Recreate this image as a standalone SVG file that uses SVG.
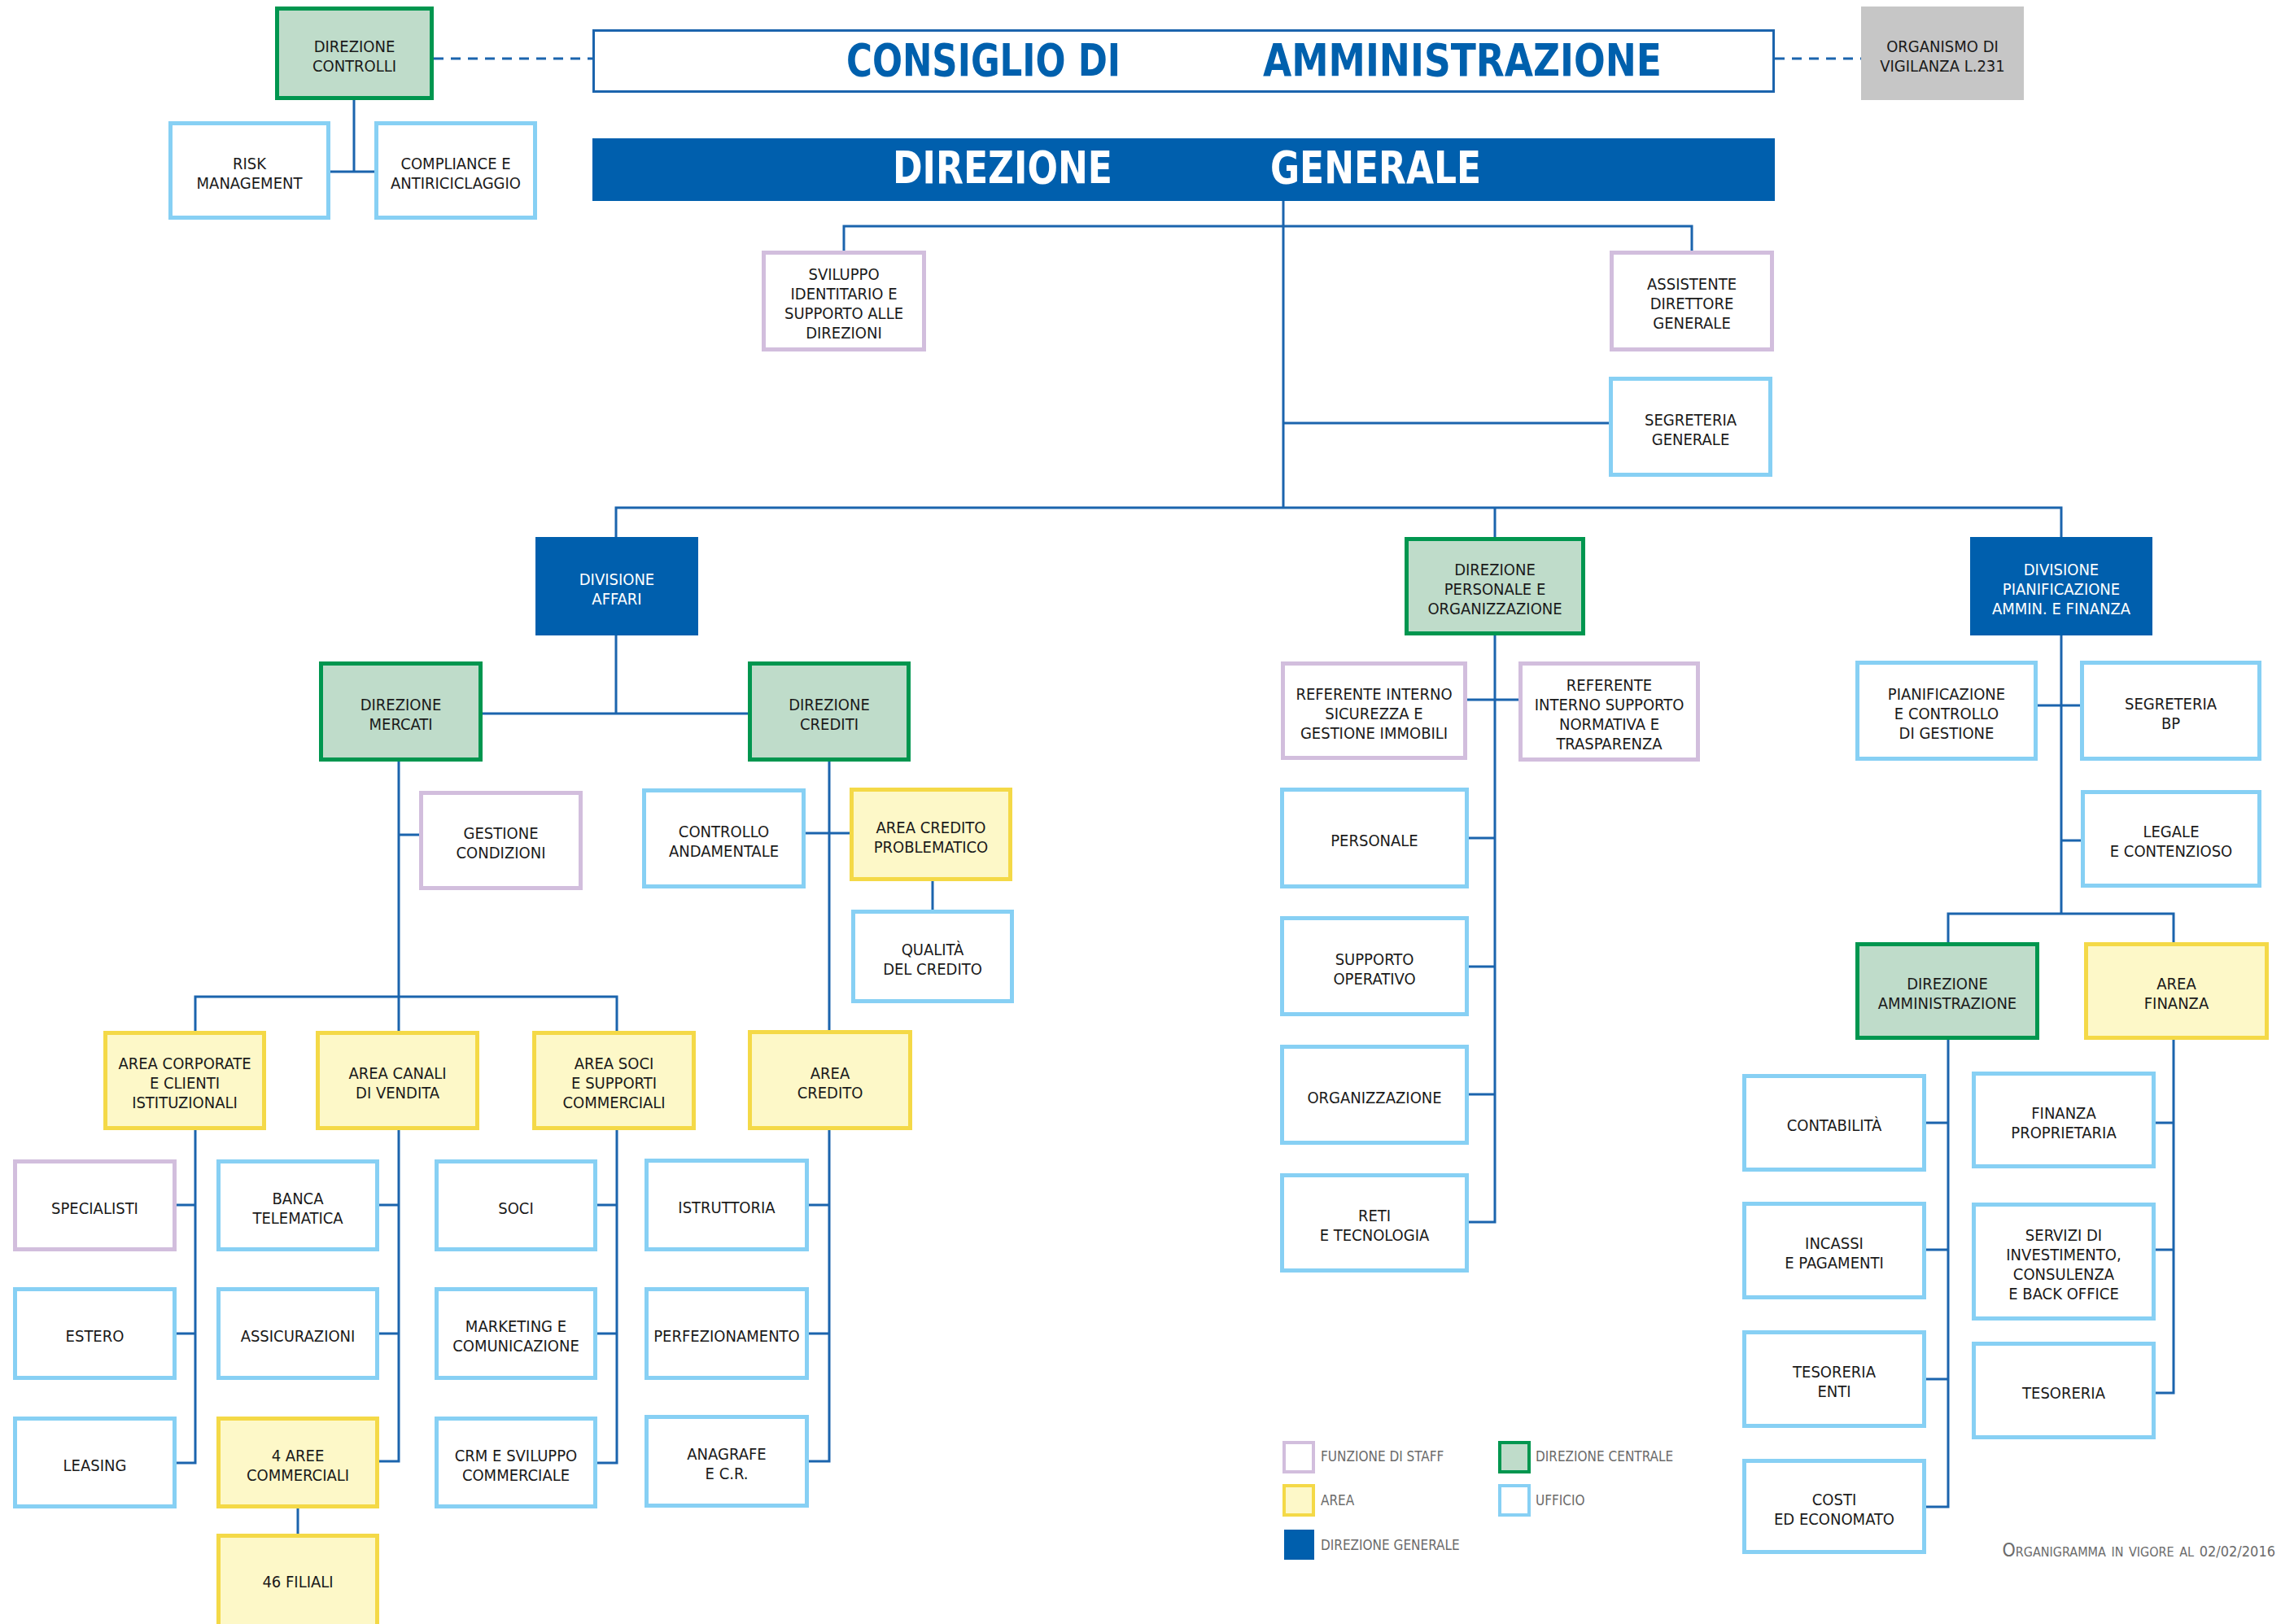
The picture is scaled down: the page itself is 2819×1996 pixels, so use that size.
<svg xmlns="http://www.w3.org/2000/svg" width="2819" height="1996" viewBox="0 0 2819 1996">
<style>
.t{font-family:"DejaVu Sans Condensed","DejaVu Sans",sans-serif;font-size:20px;fill:#1a1a1a;text-anchor:middle}
.w{fill:#ffffff}
.staff{fill:#ffffff;stroke:#d2bedd;stroke-width:5}
.uff{fill:#ffffff;stroke:#87d0f4;stroke-width:5}
.area{fill:#fdf8c8;stroke:#f4d947;stroke-width:5}
.dc{fill:#bfdcca;stroke:#00964f;stroke-width:5}
.dg{fill:#005fad}
.odv{fill:#c6c6c6}
.ln{fill:none;stroke:#1b64ad;stroke-width:3;stroke-linejoin:miter;stroke-linecap:butt}
.dash{fill:none;stroke:#1b64ad;stroke-width:3;stroke-dasharray:12 9}
.title{font-family:"DejaVu Sans Condensed","DejaVu Sans",sans-serif;font-weight:bold;font-size:56px}
.leg{font-family:"DejaVu Sans Condensed","DejaVu Sans",sans-serif;font-size:17px;fill:#6b6b6b}
</style>
<rect width="2819" height="1996" fill="#ffffff"/>
<g id="connectors">
<path class="dash" d="M533,72 H728 M2181,72 H2287"/>
<path class="ln" d="M435,123 V211 M406,211 H460"/>
<path class="ln" d="M1577,247 V624 M1037,308 V278 H2079 V308 M1577,520 H1977"/>
<path class="ln" d="M757,660 V624 H2533 V660 M1837,624 V660"/>
<path class="ln" d="M757,781 V877 M593,877 H919"/>
<path class="ln" d="M490,936 V1267 M490,1026 H515 M240,1267 V1225 H758 V1267"/>
<path class="ln" d="M240,1389 V1798 H217 M217,1481 H240 M217,1639 H240"/>
<path class="ln" d="M490,1389 V1796 H466 M466,1481 H490 M466,1639 H490 M366,1854 V1885"/>
<path class="ln" d="M758,1389 V1798 H734 M734,1481 H758 M734,1639 H758"/>
<path class="ln" d="M1019,936 V1266 M990,1024 H1044 M1146,1083 V1118"/>
<path class="ln" d="M1019,1389 V1796 H994 M994,1481 H1019 M994,1639 H1019"/>
<path class="ln" d="M1837,781 V1502 H1805 M1803,860 H1866 M1805,1030 H1837 M1805,1188 H1837 M1805,1345 H1837"/>
<path class="ln" d="M2533,781 V1123 M2504,867 H2556 M2533,1033 H2557 M2394,1158 V1123 H2671 V1158"/>
<path class="ln" d="M2394,1278 V1852 H2367 M2367,1380 H2394 M2367,1536 H2394 M2367,1695 H2394"/>
<path class="ln" d="M2671,1278 V1712 H2649 M2649,1380 H2671 M2649,1536 H2671"/>
</g>
<g id="consiglio">
<rect x="729.5" y="37.5" width="1450" height="75" fill="#ffffff" stroke="#1b64ad" stroke-width="3"/>
<text class="title" x="1040" y="93" fill="#0060ad" textLength="337" lengthAdjust="spacingAndGlyphs">CONSIGLIO DI</text>
<text class="title" x="1552" y="93" fill="#0060ad" textLength="490" lengthAdjust="spacingAndGlyphs">AMMINISTRAZIONE</text>
</g>
<g id="direzione-generale">
<rect class="dg" x="728" y="170" width="1453" height="77"/>
<text class="title" x="1097" y="225" fill="#ffffff" textLength="270" lengthAdjust="spacingAndGlyphs">DIREZIONE</text>
<text class="title" x="1561" y="225" fill="#ffffff" textLength="259" lengthAdjust="spacingAndGlyphs">GENERALE</text>
</g>
<g id="direzione-controlli"><rect class="dc" x="340.5" y="10.5" width="190" height="110"/><text class="t" x="435.5" y="63.5">DIREZIONE</text><text class="t" x="435.5" y="87.5">CONTROLLI</text></g>
<g id="risk-management"><rect class="uff" x="209.5" y="151.5" width="194" height="116"/><text class="t" x="306.5" y="207.5">RISK</text><text class="t" x="306.5" y="231.5">MANAGEMENT</text></g>
<g id="compliance"><rect class="uff" x="462.5" y="151.5" width="195" height="116"/><text class="t" x="560" y="207.5">COMPLIANCE E</text><text class="t" x="560" y="231.5">ANTIRICICLAGGIO</text></g>
<g id="organismo-vigilanza"><rect class="odv" x="2287" y="8" width="200" height="115"/><text class="t" x="2387" y="63.5">ORGANISMO DI</text><text class="t" x="2387" y="87.5">VIGILANZA L.231</text></g>
<g id="sviluppo-identitario"><rect class="staff" x="938.5" y="310.5" width="197" height="119"/><text class="t" x="1037" y="344">SVILUPPO</text><text class="t" x="1037" y="368">IDENTITARIO E</text><text class="t" x="1037" y="392">SUPPORTO ALLE</text><text class="t" x="1037" y="416">DIREZIONI</text></g>
<g id="assistente-dg"><rect class="staff" x="1980.5" y="310.5" width="197" height="119"/><text class="t" x="2079" y="356">ASSISTENTE</text><text class="t" x="2079" y="380">DIRETTORE</text><text class="t" x="2079" y="404">GENERALE</text></g>
<g id="segreteria-generale"><rect class="uff" x="1979.5" y="465.5" width="196" height="118"/><text class="t" x="2077.5" y="522.5">SEGRETERIA</text><text class="t" x="2077.5" y="546.5">GENERALE</text></g>
<g id="divisione-affari"><rect class="dg" x="658" y="660" width="200" height="121"/><text class="t w" x="758" y="718.5">DIVISIONE</text><text class="t w" x="758" y="742.5">AFFARI</text></g>
<g id="direzione-personale"><rect class="dc" x="1728.5" y="662.5" width="217" height="116"/><text class="t" x="1837" y="706.5">DIREZIONE</text><text class="t" x="1837" y="730.5">PERSONALE E</text><text class="t" x="1837" y="754.5">ORGANIZZAZIONE</text></g>
<g id="divisione-pianificazione"><rect class="dg" x="2421" y="660" width="224" height="121"/><text class="t w" x="2533" y="706.5">DIVISIONE</text><text class="t w" x="2533" y="730.5">PIANIFICAZIONE</text><text class="t w" x="2533" y="754.5">AMMIN. E FINANZA</text></g>
<g id="direzione-mercati"><rect class="dc" x="394.5" y="815.5" width="196" height="118"/><text class="t" x="492.5" y="872.5">DIREZIONE</text><text class="t" x="492.5" y="896.5">MERCATI</text></g>
<g id="direzione-crediti"><rect class="dc" x="921.5" y="815.5" width="195" height="118"/><text class="t" x="1019" y="872.5">DIREZIONE</text><text class="t" x="1019" y="896.5">CREDITI</text></g>
<g id="gestione-condizioni"><rect class="staff" x="517.5" y="974.5" width="196" height="117"/><text class="t" x="615.5" y="1031">GESTIONE</text><text class="t" x="615.5" y="1055">CONDIZIONI</text></g>
<g id="controllo-andamentale"><rect class="uff" x="791.5" y="971.5" width="196" height="118"/><text class="t" x="889.5" y="1028.5">CONTROLLO</text><text class="t" x="889.5" y="1052.5">ANDAMENTALE</text></g>
<g id="area-credito-problematico"><rect class="area" x="1046.5" y="970.5" width="195" height="110"/><text class="t" x="1144" y="1023.5">AREA CREDITO</text><text class="t" x="1144" y="1047.5">PROBLEMATICO</text></g>
<g id="qualita-credito"><rect class="uff" x="1048.5" y="1120.5" width="195" height="110"/><text class="t" x="1146" y="1173.5">QUALITÀ</text><text class="t" x="1146" y="1197.5">DEL CREDITO</text></g>
<g id="area-corporate"><rect class="area" x="129.5" y="1269.5" width="195" height="117"/><text class="t" x="227" y="1314">AREA CORPORATE</text><text class="t" x="227" y="1338">E CLIENTI</text><text class="t" x="227" y="1362">ISTITUZIONALI</text></g>
<g id="area-canali"><rect class="area" x="390.5" y="1269.5" width="196" height="117"/><text class="t" x="488.5" y="1326">AREA CANALI</text><text class="t" x="488.5" y="1350">DI VENDITA</text></g>
<g id="area-soci"><rect class="area" x="656.5" y="1269.5" width="196" height="117"/><text class="t" x="754.5" y="1314">AREA SOCI</text><text class="t" x="754.5" y="1338">E SUPPORTI</text><text class="t" x="754.5" y="1362">COMMERCIALI</text></g>
<g id="area-credito"><rect class="area" x="921.5" y="1268.5" width="197" height="118"/><text class="t" x="1020" y="1325.5">AREA</text><text class="t" x="1020" y="1349.5">CREDITO</text></g>
<g id="specialisti"><rect class="staff" x="18.5" y="1427.5" width="196" height="108"/><text class="t" x="116.5" y="1491.5">SPECIALISTI</text></g>
<g id="estero"><rect class="uff" x="18.5" y="1584.5" width="196" height="109"/><text class="t" x="116.5" y="1649">ESTERO</text></g>
<g id="leasing"><rect class="uff" x="18.5" y="1743.5" width="196" height="108"/><text class="t" x="116.5" y="1807.5">LEASING</text></g>
<g id="banca-telematica"><rect class="uff" x="268.5" y="1427.5" width="195" height="108"/><text class="t" x="366" y="1479.5">BANCA</text><text class="t" x="366" y="1503.5">TELEMATICA</text></g>
<g id="assicurazioni"><rect class="uff" x="268.5" y="1584.5" width="195" height="109"/><text class="t" x="366" y="1649">ASSICURAZIONI</text></g>
<g id="aree-commerciali"><rect class="area" x="268.5" y="1743.5" width="195" height="108"/><text class="t" x="366" y="1795.5">4 AREE</text><text class="t" x="366" y="1819.5">COMMERCIALI</text></g>
<g id="filiali"><rect class="area" x="268.5" y="1887.5" width="195" height="120"/><text class="t" x="366" y="1951">46 FILIALI</text></g>
<g id="soci"><rect class="uff" x="536.5" y="1427.5" width="195" height="108"/><text class="t" x="634" y="1491.5">SOCI</text></g>
<g id="marketing"><rect class="uff" x="536.5" y="1584.5" width="195" height="109"/><text class="t" x="634" y="1637">MARKETING E</text><text class="t" x="634" y="1661">COMUNICAZIONE</text></g>
<g id="crm"><rect class="uff" x="536.5" y="1743.5" width="195" height="108"/><text class="t" x="634" y="1795.5">CRM E SVILUPPO</text><text class="t" x="634" y="1819.5">COMMERCIALE</text></g>
<g id="istruttoria"><rect class="uff" x="794.5" y="1426.5" width="197" height="109"/><text class="t" x="893" y="1491">ISTRUTTORIA</text></g>
<g id="perfezionamento"><rect class="uff" x="794.5" y="1584.5" width="197" height="109"/><text class="t" x="893" y="1649">PERFEZIONAMENTO</text></g>
<g id="anagrafe"><rect class="uff" x="794.5" y="1741.5" width="197" height="109"/><text class="t" x="893" y="1794">ANAGRAFE</text><text class="t" x="893" y="1818">E C.R.</text></g>
<g id="referente-sicurezza"><rect class="staff" x="1576.5" y="815.5" width="224" height="116"/><text class="t" x="1688.5" y="859.5">REFERENTE INTERNO</text><text class="t" x="1688.5" y="883.5">SICUREZZA E</text><text class="t" x="1688.5" y="907.5">GESTIONE IMMOBILI</text></g>
<g id="referente-supporto"><rect class="staff" x="1868.5" y="815.5" width="218" height="118"/><text class="t" x="1977.5" y="848.5">REFERENTE</text><text class="t" x="1977.5" y="872.5">INTERNO SUPPORTO</text><text class="t" x="1977.5" y="896.5">NORMATIVA E</text><text class="t" x="1977.5" y="920.5">TRASPARENZA</text></g>
<g id="personale"><rect class="uff" x="1575.5" y="970.5" width="227" height="119"/><text class="t" x="1689" y="1040">PERSONALE</text></g>
<g id="supporto-operativo"><rect class="uff" x="1575.5" y="1128.5" width="227" height="118"/><text class="t" x="1689" y="1185.5">SUPPORTO</text><text class="t" x="1689" y="1209.5">OPERATIVO</text></g>
<g id="organizzazione"><rect class="uff" x="1575.5" y="1286.5" width="227" height="118"/><text class="t" x="1689" y="1355.5">ORGANIZZAZIONE</text></g>
<g id="reti-tecnologia"><rect class="uff" x="1575.5" y="1444.5" width="227" height="117"/><text class="t" x="1689" y="1501">RETI</text><text class="t" x="1689" y="1525">E TECNOLOGIA</text></g>
<g id="pianificazione-controllo"><rect class="uff" x="2282.5" y="814.5" width="219" height="118"/><text class="t" x="2392" y="859.5">PIANIFICAZIONE</text><text class="t" x="2392" y="883.5">E CONTROLLO</text><text class="t" x="2392" y="907.5">DI GESTIONE</text></g>
<g id="segreteria-bp"><rect class="uff" x="2558.5" y="814.5" width="218" height="118"/><text class="t" x="2667.5" y="871.5">SEGRETERIA</text><text class="t" x="2667.5" y="895.5">BP</text></g>
<g id="legale"><rect class="uff" x="2559.5" y="973.5" width="217" height="115"/><text class="t" x="2668" y="1029">LEGALE</text><text class="t" x="2668" y="1053">E CONTENZIOSO</text></g>
<g id="direzione-amministrazione"><rect class="dc" x="2282.5" y="1160.5" width="221" height="115"/><text class="t" x="2393" y="1216">DIREZIONE</text><text class="t" x="2393" y="1240">AMMINISTRAZIONE</text></g>
<g id="area-finanza"><rect class="area" x="2563.5" y="1160.5" width="222" height="115"/><text class="t" x="2674.5" y="1216">AREA</text><text class="t" x="2674.5" y="1240">FINANZA</text></g>
<g id="contabilita"><rect class="uff" x="2143.5" y="1322.5" width="221" height="115"/><text class="t" x="2254" y="1390">CONTABILITÀ</text></g>
<g id="incassi-pagamenti"><rect class="uff" x="2143.5" y="1479.5" width="221" height="115"/><text class="t" x="2254" y="1535">INCASSI</text><text class="t" x="2254" y="1559">E PAGAMENTI</text></g>
<g id="tesoreria-enti"><rect class="uff" x="2143.5" y="1637.5" width="221" height="115"/><text class="t" x="2254" y="1693">TESORERIA</text><text class="t" x="2254" y="1717">ENTI</text></g>
<g id="costi-economato"><rect class="uff" x="2143.5" y="1795.5" width="221" height="112"/><text class="t" x="2254" y="1849.5">COSTI</text><text class="t" x="2254" y="1873.5">ED ECONOMATO</text></g>
<g id="finanza-proprietaria"><rect class="uff" x="2425.5" y="1319.5" width="221" height="114"/><text class="t" x="2536" y="1374.5">FINANZA</text><text class="t" x="2536" y="1398.5">PROPRIETARIA</text></g>
<g id="servizi-investimento"><rect class="uff" x="2425.5" y="1480.5" width="221" height="140"/><text class="t" x="2536" y="1524.5">SERVIZI DI</text><text class="t" x="2536" y="1548.5">INVESTIMENTO,</text><text class="t" x="2536" y="1572.5">CONSULENZA</text><text class="t" x="2536" y="1596.5">E BACK OFFICE</text></g>
<g id="tesoreria"><rect class="uff" x="2425.5" y="1651.5" width="221" height="115"/><text class="t" x="2536" y="1719">TESORERIA</text></g>
<g id="legenda">
<rect class="staff" x="1578" y="1773" width="36" height="36" style="stroke-width:4"/>
<text class="leg" x="1623" y="1796">FUNZIONE DI STAFF</text>
<rect class="area" x="1578" y="1826" width="36" height="36" style="stroke-width:4"/>
<text class="leg" x="1623" y="1850">AREA</text>
<rect class="dg" x="1578" y="1880" width="37" height="37"/>
<text class="leg" x="1623" y="1905">DIREZIONE GENERALE</text>
<rect class="dc" x="1843" y="1773" width="36" height="36" style="stroke-width:4"/>
<text class="leg" x="1887" y="1796">DIREZIONE CENTRALE</text>
<rect class="uff" x="1843" y="1826" width="36" height="36" style="stroke-width:4"/>
<text class="leg" x="1887" y="1850">UFFICIO</text>
</g>
<text class="leg" x="2796" y="1913" style="font-size:23px;font-variant:small-caps;text-anchor:end">Organigramma in vigore al <tspan style="font-size:18px">02/02/2016</tspan></text>
</svg>
